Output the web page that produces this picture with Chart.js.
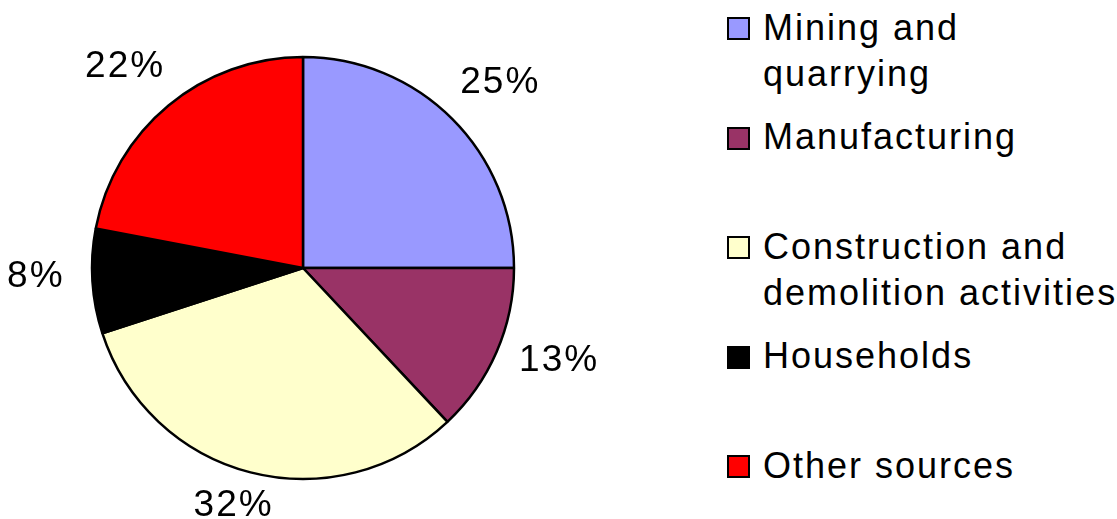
<!DOCTYPE html>
<html>
<head>
<meta charset="utf-8">
<script src="https://cdn.jsdelivr.net/npm/chart.js@4.4.1/dist/chart.umd.min.js"></script>
<style>
  body { margin: 0; background: #fff; font-family: "Liberation Sans", Arial, sans-serif; }
  #wrap { position: relative; width: 1117px; height: 519px; overflow: hidden; }
  #pieBox { position: absolute; left: 0; top: 0; width: 606px; height: 519px; }
  .item { position: absolute; left: 727px; }
  .swatch { position: absolute; left: 0; width: 19px; height: 19px; border: 2.5px solid #000; }
  .txt { position: absolute; left: 36px; white-space: nowrap; font-size: 36px; line-height: 46px; letter-spacing: 2px; color: #000; }
</style>
</head>
<body>
<div id="wrap">
  <div id="pieBox"><canvas id="pie"></canvas></div>
  <div id="legend"></div>
</div>
<script>
// chart data
const categories = ['Mining and quarrying', 'Manufacturing', 'Construction and demolition activities', 'Households', 'Other sources'];
const legendLines = [['Mining and', 'quarrying'], ['Manufacturing'], ['Construction and', 'demolition activities'], ['Households'], ['Other sources']];
const shares = [25, 13, 32, 8, 22];
const sliceColors = ['#9999FF', '#993366', '#FFFFCC', '#000000', '#FF0000'];

// legend built as html so the long names can wrap
const legend = document.getElementById('legend');
categories.forEach((name, i) => {
  const mid = 29 + i * 109.5;
  const item = document.createElement('div');
  item.className = 'item';
  item.style.top = '0px';
  const sw = document.createElement('div');
  sw.className = 'swatch';
  sw.style.top = (mid - 12) + 'px';
  sw.style.background = sliceColors[i];
  const txt = document.createElement('div');
  txt.className = 'txt';
  txt.style.top = (mid - 24.5) + 'px';
  txt.innerHTML = legendLines[i].join('<br>');
  item.appendChild(sw);
  item.appendChild(txt);
  legend.appendChild(item);
});

// percent labels outside each slice
const outsideLabels = {
  id: 'outsideLabels',
  afterDatasetsDraw(chart) {
    const ctx = chart.ctx;
    const arcs = chart.getDatasetMeta(0).data;
    ctx.save();
    ctx.font = '37px "Liberation Sans", Arial, sans-serif';
    ctx.letterSpacing = '2px';
    ctx.fillStyle = '#000';
    ctx.textAlign = 'center';
    ctx.textBaseline = 'middle';
    arcs.forEach((arc, i) => {
      const p = arc.getProps(['x', 'y', 'startAngle', 'endAngle', 'outerRadius']);
      const a = (p.startAngle + p.endAngle) / 2;
      const text = shares[i] + '%';
      const w = ctx.measureText(text).width;
      const d = p.outerRadius + 28;
      const x = p.x + Math.cos(a) * d + Math.cos(a) * w / 2;
      const y = p.y + Math.sin(a) * d + Math.sin(a) * 13.5 - 7;
      ctx.fillText(text, x, y);
    });
    ctx.restore();
  }
};

new Chart(document.getElementById('pie'), {
  type: 'pie',
  data: {
    labels: categories,
    datasets: [{
      data: shares,
      backgroundColor: sliceColors,
      borderColor: '#000',
      borderWidth: 2.5
    }]
  },
  options: {
    responsive: true,
    maintainAspectRatio: false,
    animation: false,
    radius: 211,
    layout: { padding: { top: 17, bottom: 0, left: 0, right: 0 } },
    plugins: {
      legend: { display: false },
      tooltip: { enabled: false }
    }
  },
  plugins: [outsideLabels]
});
</script>
</body>
</html>
